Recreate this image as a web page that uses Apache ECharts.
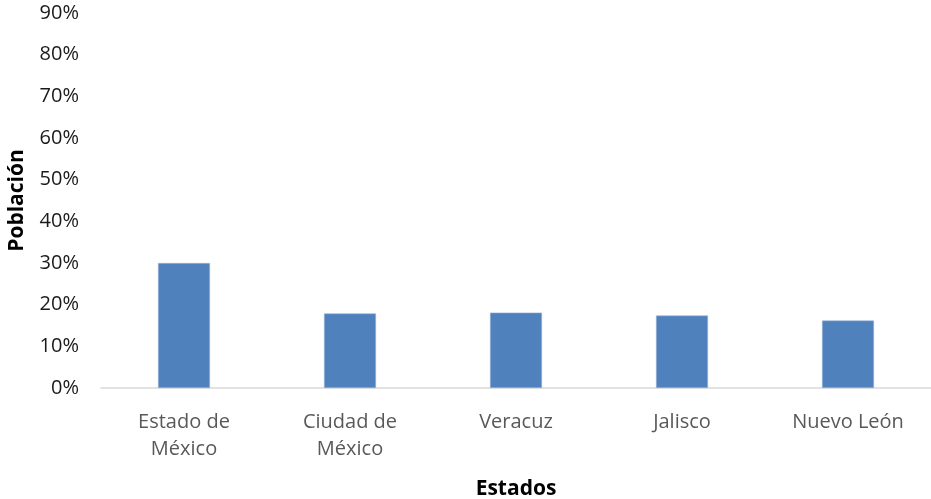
<!DOCTYPE html>
<html><head><meta charset="utf-8">
<script src="https://cdn.jsdelivr.net/npm/echarts@6/dist/echarts.min.js"></script>
<style>html,body{margin:0;padding:0;background:#fff}#c{width:931px;height:499px}</style>
</head><body><div id="c"></div>
<script>
const categories = ["Estado de\nMéxico", "Ciudad de\nMéxico", "Veracuz", "Jalisco", "Nuevo León"];
const values = [0.30, 0.179, 0.181, 0.174, 0.162];
const yTicks = {min: 0, max: 0.9, interval: 0.1};
const xTitle = "Estados";
const yTitle = "Población";

const chart = echarts.init(document.getElementById('c'), null, {renderer: 'canvas'});
chart.setOption({
  animation: false,
  backgroundColor: '#ffffff',
  grid: {left: 101, right: 0, top: 13, bottom: 111, containLabel: false, outerBoundsMode: 'none'},
  xAxis: {
    type: 'category',
    data: categories,
    name: xTitle,
    nameLocation: 'middle',
    nameGap: 91,
    nameTextStyle: {fontFamily: 'Open Sans', fontWeight: 'bold', fontSize: 21, color: '#000'},
    axisLine: {lineStyle: {color: '#d9d9d9', width: 1.5}},
    axisTick: {show: false},
    axisLabel: {fontFamily: 'Open Sans', fontSize: 20, color: '#595959', margin: 21, lineHeight: 27, interval: 0}
  },
  yAxis: {
    type: 'value',
    min: yTicks.min, max: yTicks.max, interval: yTicks.interval,
    name: yTitle,
    nameLocation: 'middle',
    nameGap: 73,
    nameRotate: 90,
    nameTextStyle: {fontFamily: 'Open Sans', fontWeight: 'bold', fontSize: 21, color: '#000'},
    axisLine: {show: false},
    axisTick: {show: false},
    splitLine: {show: false},
    axisLabel: {fontFamily: 'Open Sans', fontSize: 20, color: '#1a1a1a', margin: 22, padding: [5, 0, 0, 0],
      formatter: v => Math.round(v * 100) + '%'}
  },
  series: [{
    type: 'bar',
    data: values,
    barWidth: 52,
    itemStyle: {color: '#4f81bd', borderColor: '#9bb5db', borderWidth: 0.6}
  }]
});
</script></body></html>
